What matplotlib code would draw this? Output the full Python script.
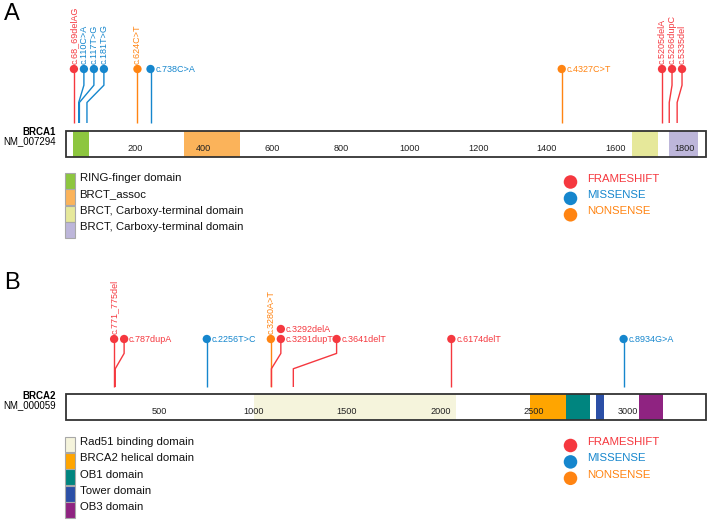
import matplotlib
matplotlib.use('Agg')
import matplotlib.pyplot as plt
from matplotlib.patches import Rectangle
from matplotlib.transforms import offset_copy

plt.rcParams['font.family'] = ['Liberation Sans', 'DejaVu Sans']

# ---------------- data ----------------
brca1_name = 'BRCA1'
brca1_refseq = 'NM_007294'
brca1_length = 1863
brca1_ticks = [200, 400, 600, 800, 1000, 1200, 1400, 1600, 1800]
brca1_domain_names = ['RING-finger domain', 'BRCT_assoc',
                      'BRCT, Carboxy-terminal domain', 'BRCT, Carboxy-terminal domain']
brca1_domain_start = [20, 344, 1649, 1756]
brca1_domain_end = [68, 506, 1722, 1841]
brca1_mut_labels = ['c.68_69delAG', 'c.110C>A', 'c.117T>G', 'c.181T>G', 'c.624C>T',
                    'c.738C>A', 'c.4327C>T', 'c.5205delA', 'c.5266dupC', 'c.5335del']
brca1_mut_pos = [23, 37, 39, 61, 208, 246, 1443, 1735, 1756, 1779]
brca1_mut_class = ['FRAMESHIFT', 'MISSENSE', 'MISSENSE', 'MISSENSE', 'NONSENSE',
                   'MISSENSE', 'NONSENSE', 'FRAMESHIFT', 'FRAMESHIFT', 'FRAMESHIFT']

brca2_name = 'BRCA2'
brca2_refseq = 'NM_000059'
brca2_length = 3418
brca2_ticks = [500, 1000, 1500, 2000, 2500, 3000]
brca2_domain_names = ['Rad51 binding domain', 'BRCA2 helical domain', 'OB1 domain',
                      'Tower domain', 'OB3 domain']
brca2_domain_start = [1005, 2478, 2669, 2829, 3060]
brca2_domain_end = [2083, 2669, 2799, 2872, 3190]
brca2_mut_labels = ['c.771_775del', 'c.787dupA', 'c.2256T>C', 'c.3280A>T', 'c.3291dupT',
                    'c.3292delA', 'c.3641delT', 'c.6174delT', 'c.8934G>A']
brca2_mut_pos = [257, 263, 752, 1094, 1097, 1097, 1214, 2058, 2978]
brca2_mut_class = ['FRAMESHIFT', 'FRAMESHIFT', 'MISSENSE', 'NONSENSE', 'FRAMESHIFT',
                   'FRAMESHIFT', 'FRAMESHIFT', 'FRAMESHIFT', 'MISSENSE']

mut_classes = ['FRAMESHIFT', 'MISSENSE', 'NONSENSE']

# ---------------- styles ----------------
class_colors = {'FRAMESHIFT': '#F5383F', 'MISSENSE': '#1586CD', 'NONSENSE': '#FF8412'}
brca1_domain_colors = ['#8DC63F', '#FBB35A', '#E6E89A', '#BDB6DA']
brca2_domain_colors = ['#F5F4DC', '#FFA500', '#00857F', '#2B4FA6', '#8F2381']

W, H = 708, 520
fig = plt.figure(figsize=(W / 100, H / 100), dpi=100)
renderer = fig.canvas.get_renderer()

ax_o = fig.add_axes([0, 0, 1, 1])
ax_o.set_xlim(0, W)
ax_o.set_ylim(H, 0)
ax_o.axis('off')

BAR_L, BAR_R = 66, 706
LBL_FS = 6.5
LEG_FS = 8.2


def make_axes(top, bottom, length):
    ax = fig.add_axes([BAR_L / W, (H - bottom) / H, (BAR_R - BAR_L) / W, (bottom - top) / H])
    ax.set_xlim(0, length)
    ax.set_ylim(bottom, top)
    ax.axis('off')
    return ax


def text_width(ax, s, fs):
    t = ax.text(0, 0, s, fontsize=fs)
    w = t.get_window_extent(renderer).width
    t.remove()
    return w


def draw_panel(ax, length, ticks, dstart, dend, dcolors, mpos, mlabels, mclass,
               bar_top, bar_h, head_y, stem_bottom):
    # bar
    ax.add_patch(Rectangle((0, bar_top), length, bar_h, facecolor='white',
                           edgecolor='none', clip_on=False, zorder=1))
    for s, e, c in zip(dstart, dend, dcolors):
        ax.add_patch(Rectangle((s, bar_top), e - s, bar_h, facecolor=c,
                               edgecolor='none', clip_on=False, zorder=2))
    ax.add_patch(Rectangle((0, bar_top), length, bar_h, fill=False,
                           edgecolor='#333333', linewidth=1.3, clip_on=False, zorder=4))
    for t in ticks:
        ax.text(t, bar_top + bar_h * 0.68, str(t), ha='center', va='center',
                fontsize=6.6, color='#222222', zorder=5)

    to_px = lambda v: ax.transData.transform((v, 0))[0]
    to_aa = lambda p: ax.transData.inverted().transform((p, 0))[0]

    # group identical positions
    groups = []
    for i, p in enumerate(mpos):
        if groups and groups[-1][0] == p:
            groups[-1][1].append(i)
        else:
            groups.append([p, [i]])

    prev_head, prev_gap = -1e9, 0
    L = stem_bottom - head_y
    bend1 = head_y + 0.3 * L
    bend2 = head_y + 0.62 * L
    for gi, (p, idx) in enumerate(groups):
        ppx = to_px(p)
        h = max(ppx, prev_head + prev_gap)
        w = max(text_width(ax, mlabels[i], LBL_FS) for i in idx)
        end = h + 5 + w
        next_px = to_px(groups[gi + 1][0]) if gi + 1 < len(groups) else 1e9
        horiz = len(idx) > 1 or (end + 4 < next_px and end < to_px(length))
        prev_gap = (5 + w + 3) if horiz else 10
        prev_head = h
        hx = to_aa(h)
        col = class_colors[mclass[idx[0]]]
        if abs(h - ppx) < 0.5:
            ax.plot([p, p], [stem_bottom, head_y], color=col, lw=1.0,
                    solid_capstyle='butt', zorder=3, clip_on=False)
        else:
            ax.plot([p, p, hx, hx], [stem_bottom, bend2, bend1, head_y], color=col,
                    lw=1.0, solid_capstyle='butt', zorder=3, clip_on=False)
        for k, i in enumerate(idx):
            y = head_y - 10 * k
            c = class_colors[mclass[i]]
            ax.scatter([hx], [y], s=36, color=c, edgecolors='none', zorder=6, clip_on=False)
            if horiz:
                tr = offset_copy(ax.transData, fig=fig, x=5, y=0, units='dots')
                ax.text(hx, y, mlabels[i], transform=tr, ha='left', va='center',
                        fontsize=LBL_FS, color=c, zorder=7)
            else:
                ax.text(hx, y - 5.5, mlabels[i], rotation=90, ha='center', va='bottom',
                        fontsize=LBL_FS, color=c, zorder=7)


def draw_legends(top_row, names, colors):
    row_h = 16.4
    for k, (n, c) in enumerate(zip(names, colors)):
        y0 = top_row + k * row_h
        ax_o.add_patch(Rectangle((64.5, y0), 10.5, row_h - 0.6, facecolor=c,
                                 edgecolor='#A8A8A8', linewidth=0.8))
        ax_o.text(79.5, y0 + row_h / 2 - 3, n, ha='left', va='center',
                  fontsize=LEG_FS, color='#111111')
    for k, cl in enumerate(mut_classes):
        yd = top_row + 9 + k * row_h
        ax_o.scatter([570.5], [yd], s=95, color=class_colors[cl], edgecolors='none')
        ax_o.text(587, yd - 3.5, cl, ha='left', va='center', fontsize=LEG_FS,
                  color=class_colors[cl])


# ---------------- panel A ----------------
axA = make_axes(0, 260, brca1_length)
draw_panel(axA, brca1_length, brca1_ticks, brca1_domain_start, brca1_domain_end,
           brca1_domain_colors, brca1_mut_pos, brca1_mut_labels, brca1_mut_class,
           bar_top=130.5, bar_h=26.5, head_y=69, stem_bottom=123)
ax_o.text(4, 2.5, 'A', fontsize=17, ha='left', va='top', color='black')
ax_o.text(55.5, 132, brca1_name, fontsize=7, fontweight='bold', ha='right', va='center')
ax_o.text(55.5, 141, brca1_refseq, fontsize=7, ha='right', va='center')
draw_legends(173, brca1_domain_names, brca1_domain_colors)

# ---------------- panel B ----------------
axB = make_axes(260, 520, brca2_length)
draw_panel(axB, brca2_length, brca2_ticks, brca2_domain_start, brca2_domain_end,
           brca2_domain_colors, brca2_mut_pos, brca2_mut_labels, brca2_mut_class,
           bar_top=394, bar_h=26, head_y=339, stem_bottom=387)
ax_o.text(4, 272, 'B', fontsize=17, ha='left', va='top', color='black')
ax_o.text(55.5, 396, brca2_name, fontsize=7, fontweight='bold', ha='right', va='center')
ax_o.text(55.5, 405, brca2_refseq, fontsize=7, ha='right', va='center')
draw_legends(436.5, brca2_domain_names, brca2_domain_colors)

fig.savefig('out.png', dpi=100)
